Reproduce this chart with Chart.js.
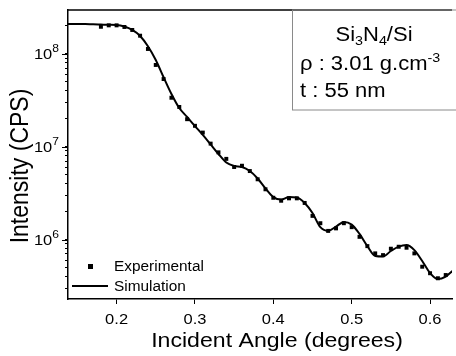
<!DOCTYPE html>
<html>
<head>
<meta charset="utf-8">
<script src="https://cdn.jsdelivr.net/npm/chart.js@4.4.0/dist/chart.umd.min.js"></script>
<style>
  html, body { margin: 0; padding: 0; background: #fff; overflow: hidden; }
</style>
</head>
<body>
<canvas id="xrrChart" width="456" height="356"></canvas>
<script>
// measured points (every 0.01 deg)
const expAngle = [0.18, 0.19, 0.20, 0.21, 0.22, 0.23, 0.24, 0.25, 0.26, 0.27, 0.28, 0.29, 0.30,
    0.31, 0.32, 0.33, 0.34, 0.35, 0.36, 0.37, 0.38, 0.39, 0.40, 0.41, 0.42, 0.43, 0.44, 0.45,
    0.46, 0.47, 0.48, 0.49, 0.50, 0.51, 0.52, 0.53, 0.54, 0.55, 0.56, 0.57, 0.58, 0.59, 0.60,
    0.61, 0.62];
const expIntensity = [1.96e8, 2.03e8, 2.03e8, 1.95e8, 1.81e8, 1.57e8, 1.13e8, 7.6e7, 5.36e7,
    3.37e7, 2.68e7, 1.98e7, 1.68e7, 1.42e7, 1.08e7, 8.7e6, 7.4e6, 6.05e6, 6.24e6, 5.47e6,
    4.46e6, 3.48e6, 2.82e6, 2.62e6, 2.78e6, 2.78e6, 2.48e6, 1.8e6, 1.5e6, 1.24e6, 1.32e6,
    1.5e6, 1.36e6, 1.07e6, 8.5e5, 7.1e5, 6.8e5, 7.97e5, 8.37e5, 8.17e5, 7.1e5, 5.1e5, 4.34e5,
    3.83e5, 4.15e5];

// simulated curve
const simAngle = [0.13, 0.14, 0.15, 0.16, 0.17, 0.18, 0.19, 0.20, 0.21, 0.22, 0.23, 0.24, 0.25,
    0.26, 0.27, 0.28, 0.29, 0.30, 0.31, 0.32, 0.33, 0.34, 0.35, 0.36, 0.37, 0.38, 0.39, 0.40,
    0.41, 0.42, 0.43, 0.44, 0.45, 0.46, 0.47, 0.48, 0.49, 0.50, 0.51, 0.52, 0.53, 0.54, 0.55,
    0.56, 0.57, 0.58, 0.59, 0.60, 0.61, 0.62, 0.63];
const simIntensity = [2.10e8, 2.10e8, 2.10e8, 2.10e8, 2.08e8, 2.07e8, 2.06e8, 2.05e8, 1.97e8,
    1.81e8, 1.56e8, 1.21e8, 8.6e7, 5.6e7, 3.7e7, 2.61e7, 2.09e7, 1.67e7, 1.34e7, 1.06e7,
    8.35e6, 6.76e6, 6.2e6, 6.04e6, 5.47e6, 4.55e6, 3.55e6, 2.87e6, 2.70e6, 2.87e6, 2.84e6,
    2.48e6, 1.93e6, 1.36e6, 1.24e6, 1.38e6, 1.55e6, 1.45e6, 1.15e6, 8.5e5, 6.65e5, 6.57e5,
    7.53e5, 8.4e5, 8.74e5, 7.7e5, 5.87e5, 4.36e5, 3.76e5, 4.0e5, 4.7e5];

const xTicks = [0.2, 0.3, 0.4, 0.5, 0.6];
const xTickLabels = ['0.2', '0.3', '0.4', '0.5', '0.6'];
const yDecades = [1e6, 1e7, 1e8];
const yExponents = ['6', '7', '8'];
const seriesNames = ['Experimental', 'Simulation'];

const FONT = '"Liberation Sans", Arial, Helvetica, sans-serif';
const SX = 1.1; // original figure is a little wide

// draws runs of [text, size, dy] side by side
function richText(ctx, parts, x, y, align, rotate) {
    let total = 0;
    parts.forEach(p => {
        ctx.font = p[1] + 'px ' + FONT;
        total += ctx.measureText(p[0]).width;
    });
    ctx.save();
    ctx.translate(x, y);
    if (rotate) {
        ctx.rotate(-Math.PI / 2);
        ctx.scale(1, SX);
    } else {
        ctx.scale(SX, 1);
    }
    ctx.fillStyle = '#000';
    ctx.textAlign = 'left';
    ctx.textBaseline = 'alphabetic';
    let cx = align === 'center' ? -total / 2 : (align === 'right' ? -total : 0);
    parts.forEach(p => {
        ctx.font = p[1] + 'px ' + FONT;
        ctx.fillText(p[0], cx, p[2] || 0);
        cx += ctx.measureText(p[0]).width;
    });
    ctx.restore();
}

const decorations = {
    id: 'decorations',
    afterDraw(chart) {
        const ctx = chart.ctx;
        const area = chart.chartArea;
        const xs = chart.scales.x;
        const ys = chart.scales.y;

        // top frame line
        ctx.save();
        ctx.strokeStyle = '#000';
        ctx.lineWidth = 1.5;
        ctx.beginPath();
        ctx.moveTo(area.left, area.top);
        ctx.lineTo(area.right, area.top);
        ctx.stroke();

        // longer major ticks on y
        ctx.lineWidth = 1;
        yDecades.forEach(v => {
            const py = Math.round(ys.getPixelForValue(v)) + 0.5;
            ctx.beginPath();
            ctx.moveTo(area.left - 6, py);
            ctx.lineTo(area.left, py);
            ctx.stroke();
        });
        ctx.restore();

        // tick labels
        xTicks.forEach((v, i) => {
            richText(ctx, [[xTickLabels[i], 15]], xs.getPixelForValue(v), 324, 'center');
        });
        yDecades.forEach((v, i) => {
            const py = ys.getPixelForValue(v);
            richText(ctx, [['10', 15, 0], [yExponents[i], 11, -7.5]], 59, py + 5.5, 'right');
        });

        // axis titles
        richText(ctx, [['Incident Angle (degrees)', 21]], 277, 347, 'center');
        richText(ctx, [['Intensity (CPS)', 23]], 28, 166, 'center', true);

        // legend
        ctx.save();
        ctx.fillStyle = '#000';
        ctx.fillRect(88, 264, 5, 5);
        ctx.strokeStyle = '#000';
        ctx.lineWidth = 2;
        ctx.beginPath();
        ctx.moveTo(72, 286);
        ctx.lineTo(108, 286);
        ctx.stroke();
        ctx.restore();
        richText(ctx, [[seriesNames[0], 14]], 114, 271);
        richText(ctx, [[seriesNames[1], 14]], 114, 291);

        // sample info box
        ctx.save();
        ctx.strokeStyle = '#8a8a8a';
        ctx.lineWidth = 1;
        ctx.strokeRect(292.5, area.top, 200, 100);
        ctx.restore();
        richText(ctx, [['Si', 20], ['3', 13, 4], ['N', 20], ['4', 13, 4], ['/Si', 20]], 374, 41, 'center');
        richText(ctx, [['\u03C1 : 3.01 g.cm', 20], ['-3', 13, -8]], 300, 70);
        richText(ctx, [['t : 55 nm', 20]], 300, 97);
    }
};

const ctx = document.getElementById('xrrChart').getContext('2d');
new Chart(ctx, {
    type: 'scatter',
    data: {
        datasets: [{
            label: seriesNames[0],
            data: expAngle.map((a, i) => ({x: a, y: expIntensity[i]})),
            pointStyle: 'rect',
            pointRadius: 2.8,
            backgroundColor: '#000',
            borderColor: '#000',
            borderWidth: 0,
            order: 1
        }, {
            label: seriesNames[1],
            type: 'line',
            data: simAngle.map((a, i) => ({x: a, y: simIntensity[i]})),
            borderColor: '#000',
            borderWidth: 2,
            pointRadius: 0,
            cubicInterpolationMode: 'monotone',
            fill: false,
            order: 2
        }]
    },
    options: {
        responsive: false,
        animation: false,
        layout: {padding: {top: 10, left: 0, right: 0, bottom: 0}},
        plugins: {
            legend: {display: false},
            tooltip: {enabled: false}
        },
        scales: {
            x: {
                type: 'linear',
                min: 0.138,
                max: 0.628,
                afterBuildTicks: s => { s.ticks = xTicks.map(v => ({value: v})); },
                afterFit: s => { s.height = 57; },
                ticks: {display: false},
                grid: {drawOnChartArea: false, tickLength: 5, tickColor: '#000'},
                border: {display: true, color: '#000', width: 1.5}
            },
            y: {
                type: 'logarithmic',
                min: 2.29e5,
                max: 2.97e8,
                afterBuildTicks: s => {
                    const t = [];
                    [1e5, 1e6, 1e7, 1e8].forEach(d => {
                        for (let k = 1; k <= 9; k++) {
                            const v = k * d;
                            if (v >= s.min && v <= s.max) t.push({value: v});
                        }
                    });
                    s.ticks = t;
                },
                afterFit: s => { s.width = 68; },
                ticks: {display: false},
                grid: {drawOnChartArea: false, tickLength: 3, tickColor: '#000'},
                border: {display: true, color: '#000', width: 1.5}
            }
        }
    },
    plugins: [decorations]
});
</script>
</body>
</html>
